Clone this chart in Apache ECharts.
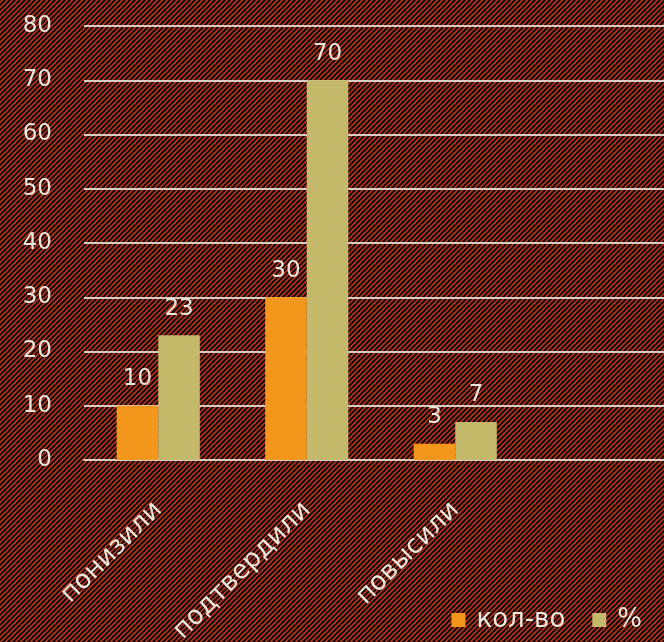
<!DOCTYPE html>
<html><head><meta charset="utf-8">
<script src="https://cdn.jsdelivr.net/npm/echarts@6/dist/echarts.min.js"></script>
<style>html,body{margin:0;padding:0;background:#7a2010}#c{width:664px;height:642px}</style>
</head><body><div id="c"></div>
<script>
const categories = ['понизили', 'подтвердили', 'повысили', ''];
const seriesNames = ['кол-во', '%'];
const countValues = [10, 30, 3, null];
const percentValues = [23, 70, 7, null];
const yTicks = [0, 80, 10];

// hatched background pattern
const N = 5;
const cv = document.createElement('canvas');
cv.width = N; cv.height = N;
const g = cv.getContext('2d');
g.fillStyle = '#b5361a';
g.fillRect(0, 0, N, N);
g.strokeStyle = '#0d0503';
g.lineWidth = 1.9;
for (let k = -1; k <= 1; k++) {
  g.beginPath();
  g.moveTo(k * N - 1, N + 1);
  g.lineTo(k * N + N + 1, -1);
  g.stroke();
}

const chart = echarts.init(document.getElementById('c'));
const txt = '#ece6de';
const font = 'DejaVu Sans';
chart.setOption({
  backgroundColor: { image: cv, repeat: 'repeat' },
  animation: false,
  grid: { left: 84, top: 26, right: -14, bottom: 182, containLabel: false, outerBoundsMode: 'none' },
  legend: {
    data: seriesNames,
    right: 17, bottom: 4,
    itemWidth: 14, itemHeight: 14, itemGap: 27,
    icon: 'rect',
    textStyle: { color: txt, fontSize: 26, fontFamily: font, padding: [0, 0, 0, 6] }
  },
  xAxis: {
    type: 'category', data: categories,
    axisLine: { show: true, lineStyle: { color: '#d8ccc4', width: 2 } },
    axisTick: { show: false },
    axisLabel: { rotate: 45, color: txt, fontSize: 26, fontFamily: font, margin: 46, interval: 0 }
  },
  yAxis: {
    type: 'value', min: yTicks[0], max: yTicks[1], interval: yTicks[2],
    axisLine: { show: false }, axisTick: { show: false },
    axisLabel: { color: txt, fontSize: 23, fontFamily: font, margin: 32 },
    splitLine: { lineStyle: { color: '#d8ccc4', width: 2 } }
  },
  series: [
    { name: seriesNames[0], type: 'bar', data: countValues, barGap: '0%', barCategoryGap: '44%',
      itemStyle: { color: '#f3961c' },
      label: { show: true, position: 'top', color: txt, fontSize: 23, fontFamily: font, distance: 15 } },
    { name: seriesNames[1], type: 'bar', data: percentValues,
      itemStyle: { color: '#c4b96a' },
      label: { show: true, position: 'top', color: txt, fontSize: 23, fontFamily: font, distance: 15 } }
  ]
});
</script></body></html>
